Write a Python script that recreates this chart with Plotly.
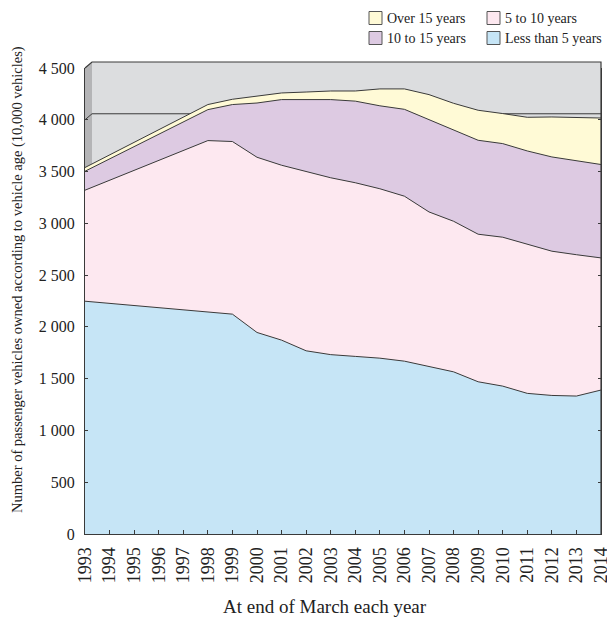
import plotly.graph_objects as go

years = list(range(1993, 2015))
less_than_5 = [2248, 2227, 2206, 2185, 2165, 2144, 2123, 1946, 1872, 1769, 1732,
               1715, 1698, 1669, 1621, 1566, 1470, 1428, 1358, 1338, 1332, 1390]
five_to_10 = [1072, 1189, 1306, 1422, 1538, 1655, 1667, 1692, 1689, 1729, 1708,
              1677, 1636, 1593, 1489, 1454, 1425, 1438, 1441, 1393, 1365, 1276]
ten_to_15 = [183, 206, 229, 253, 276, 299, 357, 524, 634, 697, 755,
             788, 801, 839, 892, 888, 907, 904, 900, 910, 907, 902]
over_15 = [36, 39, 41, 44, 46, 49, 51, 65, 64, 73, 83,
           98, 163, 197, 241, 251, 290, 290, 325, 386, 417, 449]

series_names = ["Less than 5 years", "5 to 10 years", "10 to 15 years", "Over 15 years"]
series_values = [less_than_5, five_to_10, ten_to_15, over_15]
series_colors = ["#c6e5f6", "#fde8f0", "#ddcae2", "#fffad6"]

y_tickvals = [0, 500, 1000, 1500, 2000, 2500, 3000, 3500, 4000, 4500]
y_ticktext = ["0", "500", "1 000", "1 500", "2 000", "2 500", "3 000", "3 500", "4 000", "4 500"]

W, H = 607, 618
L, R, T, B = 85, 6, 68, 84
PW, PH = W - L - R, H - T - B
DX, DY = 7, 6  # depth offset of the back wall (pixels)

def px(x):
    return (x - L) / PW

def py(y):
    return (H - B - y) / PH

SERIF = "Liberation Serif, Times New Roman, serif"
EDGE = "#3a3a3a"

fig = go.Figure()
for name, vals, col in zip(series_names, series_values, series_colors):
    fig.add_trace(go.Scatter(
        x=years, y=vals, name=name, stackgroup="one", mode="lines",
        line=dict(color=EDGE, width=1), fillcolor=col, showlegend=False,
        hoverinfo="x+y+name"))

shapes = []
# back wall
shapes.append(dict(type="rect", xref="paper", yref="paper", layer="below",
                   x0=px(L + DX), x1=1, y0=py(H - B - DY), y1=1 + DY / PH,
                   fillcolor="#dcdddf", line=dict(width=0)))
shapes.append(dict(type="rect", xref="paper", yref="paper", layer="below",
                   x0=0, x1=1, y0=0, y1=1,
                   fillcolor="#dcdddf", line=dict(width=0)))
# left side wall
shapes.append(dict(type="path", xref="paper", yref="paper", layer="below",
                   path=f"M0,0 L0,1 L{px(L+DX)},{1+DY/PH} L{px(L+DX)},{DY/PH} Z",
                   fillcolor="#b4b4b6", line=dict(width=0)))
# 4000 gridline on walls
g = 4000 / 4500
shapes.append(dict(type="path", xref="paper", yref="paper", layer="below",
                   path=f"M0,{g} L{px(L+DX)},{g+DY/PH} L1,{g+DY/PH}",
                   line=dict(color=EDGE, width=1)))
# top border and right border
shapes.append(dict(type="path", xref="paper", yref="paper", layer="above",
                   path=f"M0,1 L{px(L+DX)},{1+DY/PH} L1,{1+DY/PH} L1,0",
                   line=dict(color=EDGE, width=1.2)))

# legend (manual, 2x2)
legend_items = [("Over 15 years", series_colors[3], 369, 18),
                ("5 to 10 years", series_colors[1], 487, 18),
                ("10 to 15 years", series_colors[2], 369, 38),
                ("Less than 5 years", series_colors[0], 487, 38)]
annotations = []
for label, col, lx, ly in legend_items:
    shapes.append(dict(type="rect", xref="paper", yref="paper",
                       x0=px(lx), x1=px(lx + 13), y0=py(ly + 6.5), y1=py(ly - 6.5),
                       fillcolor=col, line=dict(color="#555555", width=1)))
    annotations.append(dict(xref="paper", yref="paper", x=px(lx + 16), y=py(ly),
                            xanchor="left", yanchor="middle", showarrow=False,
                            text=label, font=dict(family=SERIF, size=14, color="#222")))

annotations.append(dict(xref="paper", yref="paper", x=px(325), y=py(606),
                        xanchor="center", yanchor="middle", showarrow=False,
                        text="At end of March each year",
                        font=dict(family=SERIF, size=19, color="#222")))
annotations.append(dict(xref="paper", yref="paper", x=px(17), y=py(280),
                        xanchor="center", yanchor="middle", showarrow=False, textangle=-90,
                        text="Number of passenger vehicles owned according to vehicle age (10,000 vehicles)",
                        font=dict(family=SERIF, size=14.5, color="#222")))

fig.update_layout(
    width=W, height=H, margin=dict(l=L, r=R, t=T, b=B, autoexpand=False),
    paper_bgcolor="white", plot_bgcolor="rgba(0,0,0,0)",
    shapes=shapes, annotations=annotations, showlegend=False,
    font=dict(family=SERIF, color="#222"))
fig.update_xaxes(range=[1993 - 1e-4, 2014 + 1e-4], tickvals=years,
                 ticktext=[str(y) for y in years], automargin=False,
                 tickangle=-90, ticks="inside", ticklen=4, tickcolor=EDGE,
                 showline=True, linecolor=EDGE, linewidth=1.2, showgrid=False,
                 zeroline=False, ticklabelstandoff=5, ticklabeloverflow="allow",
                 tickfont=dict(family=SERIF, size=18, color="#222"))
fig.update_yaxes(range=[0, 4500], tickvals=y_tickvals, ticktext=y_ticktext,
                 automargin=False,
                 ticks="inside", ticklen=3, tickcolor=EDGE, mirror="ticks",
                 showline=True, linecolor=EDGE, linewidth=1.2, showgrid=False,
                 zeroline=False, ticklabelstandoff=6,
                 tickfont=dict(family=SERIF, size=16, color="#222"))

post = (
    "document.documentElement.style.overflow='hidden';"
    "document.body.style.margin='0';document.body.style.overflow='hidden';"
)
fig.write_html("out.html", config={"displayModeBar": False}, post_script=post)
